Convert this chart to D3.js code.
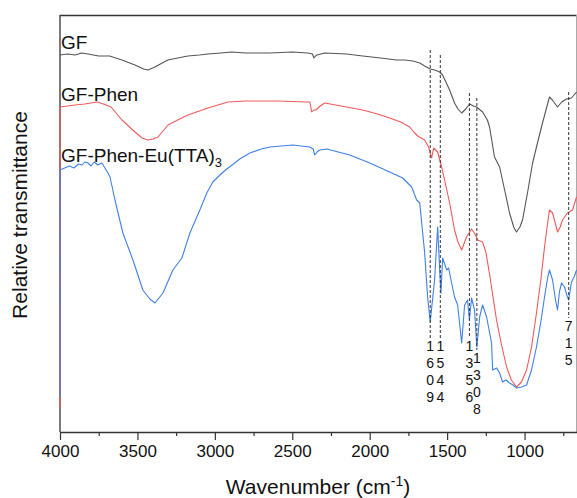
<!DOCTYPE html>
<html>
<head>
<meta charset="utf-8">
<script src="https://cdn.jsdelivr.net/npm/d3@7"></script>
<style>
  body { margin: 0; background: #fff; }
  svg text { font-family: "Liberation Sans", Arial, sans-serif; }
</style>
</head>
<body>
<div id="chart"></div>
<script>
// FTIR spectra, [wavenumber, relative transmittance (offset, arbitrary units)]
var gf = [
  [4000, 377], [3950, 378], [3903, 377], [3860, 379], [3819, 378], [3750, 376], [3680, 376],
  [3600, 372], [3516, 367], [3460, 363], [3432, 362], [3387, 365], [3340, 369], [3303, 372],
  [3240, 374], [3174, 376], [3100, 377], [3045, 378], [2960, 379], [2890, 380], [2800, 379],
  [2645, 379], [2500, 380], [2400, 379], [2370, 378], [2360, 374], [2350, 376], [2340, 377],
  [2290, 379], [2150, 378], [2045, 376], [1930, 374], [1826, 372], [1774, 372], [1720, 371],
  [1677, 369], [1645, 366], [1610, 363], [1580, 362], [1548, 360], [1529, 357], [1484, 342],
  [1452, 329], [1430, 323], [1406, 319], [1380, 323], [1355, 328], [1330, 326], [1310, 325],
  [1271, 320], [1240, 312], [1226, 305], [1194, 275], [1161, 265], [1130, 243], [1097, 219],
  [1070, 205], [1052, 200], [1030, 205], [1013, 212], [980, 240], [948, 269], [915, 290],
  [884, 309], [860, 323], [839, 335], [820, 332], [806, 329], [787, 325], [760, 330],
  [729, 333], [697, 334], [664, 340]
];

var gfPhen = [
  [4000, 24], [4000, 325], [3950, 326], [3903, 327], [3840, 328], [3760, 330], [3720, 328],
  [3670, 325], [3600, 312], [3516, 300], [3470, 294], [3432, 292], [3400, 293], [3367, 295],
  [3303, 307], [3240, 312], [3174, 317], [3100, 321], [3045, 324], [2980, 327], [2916, 330],
  [2800, 331], [2600, 331], [2400, 330], [2387, 330], [2374, 320], [2362, 322], [2348, 322],
  [2320, 326], [2290, 329], [2150, 325], [2045, 322], [1950, 318], [1871, 314], [1800, 310],
  [1742, 305], [1715, 300], [1690, 296], [1645, 292], [1620, 285], [1600, 274], [1587, 284],
  [1561, 280], [1535, 265], [1516, 252], [1484, 229], [1452, 202], [1430, 190], [1406, 182],
  [1375, 195], [1342, 203], [1320, 198], [1303, 192], [1271, 190], [1250, 180], [1226, 158],
  [1181, 112], [1150, 88], [1116, 65], [1085, 52], [1052, 45], [1020, 50], [987, 62],
  [955, 85], [923, 119], [895, 152], [871, 185], [850, 210], [839, 222], [819, 219],
  [800, 208], [787, 200], [770, 205], [755, 212], [723, 219], [690, 222], [664, 235]
];

var gfPhenEu = [
  [4000, 35], [4000, 262], [3970, 264], [3940, 266], [3910, 264], [3880, 268], [3858, 267],
  [3840, 270], [3819, 269], [3800, 266], [3780, 270], [3755, 267], [3730, 269], [3710, 264],
  [3690, 259], [3677, 255], [3645, 232], [3594, 199], [3529, 172], [3465, 142], [3420, 133],
  [3387, 129], [3335, 139], [3271, 162], [3213, 174], [3161, 199], [3097, 222], [3052, 239],
  [3013, 250], [2960, 258], [2923, 263], [2880, 268], [2839, 273], [2774, 279], [2700, 283],
  [2645, 285], [2497, 287], [2387, 285],
  [2365, 283], [2355, 277], [2340, 280], [2323, 282], [2277, 283], [2129, 277], [2000, 269],
  [1871, 260], [1787, 254], [1729, 245], [1697, 232], [1677, 229], [1645, 179], [1626, 135],
  [1609, 110], [1581, 152], [1561, 205], [1548, 162], [1540, 139], [1529, 174], [1503, 162],
  [1490, 164], [1471, 149], [1452, 135], [1432, 127], [1406, 89], [1387, 127], [1368, 132],
  [1356, 112], [1342, 134], [1323, 122], [1308, 85], [1290, 115], [1271, 127], [1245, 115],
  [1213, 89], [1206, 62], [1180, 64], [1161, 59], [1142, 50], [1120, 52], [1097, 49],
  [1075, 47], [1052, 44], [1020, 45], [987, 47], [955, 62], [923, 85], [895, 110],
  [871, 135], [850, 155], [839, 162], [819, 152], [800, 132], [787, 122], [775, 140],
  [761, 149], [742, 145], [723, 135], [715, 132], [697, 150], [680, 155], [664, 162]
];

var seriesNames = ['GF', 'GF-Phen', 'GF-Phen-Eu(TTA)'];
var seriesColors = ['#555555', '#f05a5a', '#3f80e4'];

// marked bands: wavenumber, top and bottom of the dashed guide
var peakWavenumbers = [1609, 1544, 1356, 1308, 715];
var peakTops = [382, 377, 339, 334, 340];
var peakBottoms = [94, 94, 94, 82, 114];

var majorTicks = [4000, 3500, 3000, 2500, 2000, 1500, 1000];
var minorTicks = [3750, 3250, 2750, 2250, 1750, 1250, 750];

var width = 577, height = 498;
var margin = {left: 60, top: 15, right: 0.5, bottom: 66};

var svg = d3.select('#chart').append('svg')
  .attr('width', width)
  .attr('height', height);

var x = d3.scaleLinear()
  .domain([4000, 664.5])
  .range([margin.left, width - margin.right]);

var y = d3.scaleLinear()
  .domain([0, 417])
  .range([height - margin.bottom, margin.top]);

var line = d3.line()
  .x(function(d) {return x(d[0]);})
  .y(function(d) {return y(d[1]);});

// frame: top and right edges
svg.append('line')
  .attr('x1', margin.left).attr('x2', width)
  .attr('y1', margin.top + 0.5).attr('y2', margin.top + 0.5)
  .style('stroke', '#333').style('stroke-width', 1.3);
svg.append('line')
  .attr('x1', width - 0.5).attr('x2', width - 0.5)
  .attr('y1', margin.top).attr('y2', height - margin.bottom)
  .style('stroke', '#aaa').style('stroke-width', 1);

// left axis line (no ticks)
svg.append('line')
  .attr('x1', margin.left).attr('x2', margin.left)
  .attr('y1', margin.top).attr('y2', height - margin.bottom)
  .style('stroke', '#333').style('stroke-width', 1.3);

// bottom axis
var xAxis = svg.append('g')
  .attr('transform', 'translate(0,' + (height - margin.bottom) + ')')
  .call(d3.axisBottom(x).tickValues(majorTicks).tickFormat(d3.format('d'))
    .tickSize(8).tickSizeOuter(0).tickPadding(5));
xAxis.select('.domain').style('stroke', '#333').style('stroke-width', 1.3);
xAxis.selectAll('.tick line').style('stroke', '#333').style('stroke-width', 1.2);
xAxis.selectAll('.tick text')
  .style('font-size', '17px')
  .style('fill', '#111')
  .style('font-family', '"Liberation Sans", Arial, sans-serif');

var xMinor = svg.append('g')
  .attr('transform', 'translate(0,' + (height - margin.bottom) + ')')
  .call(d3.axisBottom(x).tickValues(minorTicks).tickSize(4).tickFormat(''));
xMinor.select('.domain').remove();
xMinor.selectAll('.tick line').style('stroke', '#333').style('stroke-width', 1.2);

// spectra
var allSeries = [gf, gfPhen, gfPhenEu];
svg.selectAll('path.spectrum')
  .data(allSeries)
  .enter().append('path')
  .attr('class', 'spectrum')
  .attr('d', line)
  .style('fill', 'none')
  .style('stroke', function(d, i) {return seriesColors[i];})
  .style('stroke-width', 1.1)
  .style('stroke-linejoin', 'round');

// dashed guides at marked bands
svg.selectAll('line.peak')
  .data(peakWavenumbers)
  .enter().append('line')
  .attr('class', 'peak')
  .attr('x1', function(d) {return x(d);})
  .attr('x2', function(d) {return x(d);})
  .attr('y1', function(d, i) {return y(peakTops[i]);})
  .attr('y2', function(d, i) {return y(peakBottoms[i]);})
  .style('stroke', '#333')
  .style('stroke-width', 1)
  .style('stroke-dasharray', '3,2');

// vertical digit labels under the guides
var peakLabels = svg.selectAll('text.peak')
  .data(peakWavenumbers)
  .enter().append('text')
  .attr('class', 'peak')
  .attr('text-anchor', 'middle')
  .style('font-size', '14px')
  .style('fill', '#111');

peakLabels.each(function(d, i) {
  var t = d3.select(this);
  var cx = x(d);
  String(d).split('').forEach(function(ch, k) {
    t.append('tspan')
      .attr('x', cx)
      .attr('y', y(peakBottoms[i]) + 13 + k * 17)
      .text(ch);
  });
});

// series names
var nameY = [49, 101, 162];
svg.selectAll('text.name')
  .data(seriesNames)
  .enter().append('text')
  .attr('class', 'name')
  .attr('x', margin.left + 1)
  .attr('y', function(d, i) {return nameY[i];})
  .style('font-size', '19px')
  .style('fill', '#111')
  .text(function(d) {return d;});

svg.selectAll('text.name')
  .filter(function(d, i) {return i === 2;})
  .append('tspan')
  .attr('dy', 5)
  .style('font-size', '13px')
  .text('3');

// axis titles
var xTitle = svg.append('text')
  .attr('x', 318)
  .attr('y', 494)
  .attr('text-anchor', 'middle')
  .style('font-size', '21px')
  .style('fill', '#111');
xTitle.append('tspan').text('Wavenumber (cm');
xTitle.append('tspan').attr('dy', -8).style('font-size', '14px').text('-1');
xTitle.append('tspan').attr('dy', 8).text(')');

svg.append('text')
  .attr('transform', 'translate(27,215) rotate(-90)')
  .attr('text-anchor', 'middle')
  .style('font-size', '21px')
  .style('fill', '#111')
  .text('Relative transmittance');
</script>
</body>
</html>
